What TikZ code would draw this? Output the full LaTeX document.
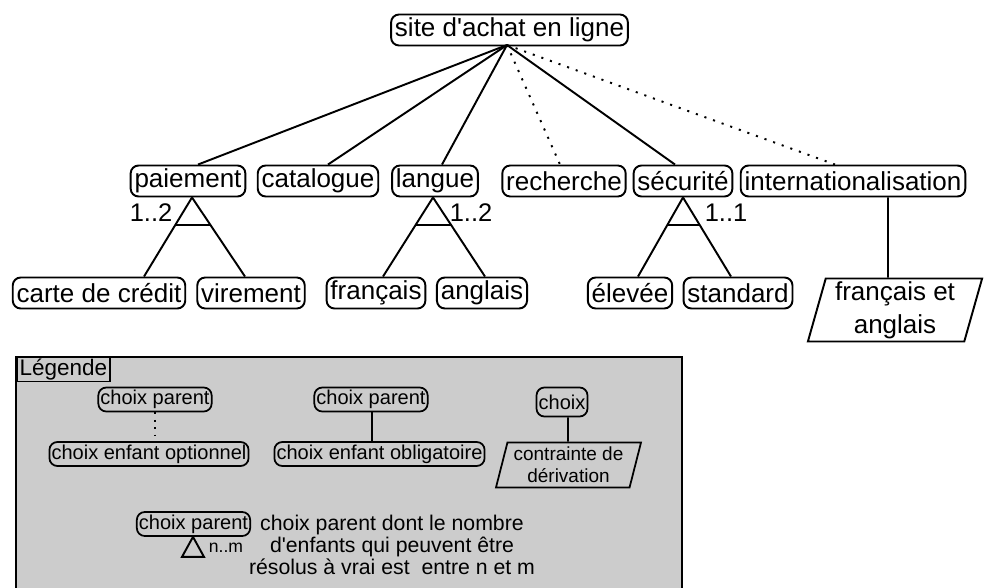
\documentclass[tikz,border=0pt]{standalone}
\usepackage{fontspec}
\setmainfont{Liberation Sans}[Ligatures=TeXOff]
\usetikzlibrary{positioning, shapes.geometric, calc}
\definecolor{legendgrey}{RGB}{204,204,204}

\begin{document}
\begin{tikzpicture}[
    x=0.02cm, y=-0.02cm,
    line width=1.1pt,
    choice/.style={rectangle, draw, rounded corners=4.5pt, font=\fontsize{14.8}{16}\selectfont, inner xsep=2.2pt, inner ysep=0pt, minimum height=0.62cm},
    constraint/.style={trapezium, draw, trapezium left angle=75, trapezium right angle=105, trapezium stretches=true, align=center, font=\fontsize{14.8}{19}\selectfont, minimum width=3.5cm, minimum height=1.26cm, inner sep=0pt},
    card/.style={font=\fontsize{14.5}{15}\selectfont, inner sep=0pt},
    optional/.style={dash pattern=on 1.2pt off 4pt},
    smallchoice/.style={rectangle, draw, rounded corners=4.5pt, line width=1pt, font=\fontsize{11.4}{12}\selectfont, inner xsep=1.2pt, inner ysep=0pt, minimum height=0.48cm},
    smallconstraint/.style={trapezium, draw, line width=1pt, trapezium left angle=74, trapezium right angle=106, trapezium stretches=true, align=center, font=\fontsize{10.8}{12.5}\selectfont, minimum width=2.92cm, minimum height=0.9cm, inner sep=0pt},
    legendtitle/.style={rectangle, draw, line width=1pt, font=\fontsize{12.8}{13}\selectfont, inner xsep=1.5pt, inner ysep=0pt, minimum height=0.48cm},
    desc/.style={align=center, font=\fontsize{12.1}{12.5}\selectfont, inner sep=0pt}
]
\useasboundingbox (0,0) rectangle (984,588);

\node[choice] (site) at (509.5,30) {site d'achat en ligne};

\node[choice] (paiement) at (188,181) {paiement};
\node[choice] (catalogue) at (318,181) {catalogue};
\node[choice] (langue) at (435,181) {langue};
\node[choice] (recherche) at (564,181) {recherche};
\node[choice] (securite) at (683,181) {sécurité};
\node[choice] (inter) at (853,181) {internationalisation};

\node[choice] (carte) at (99,293) {carte de crédit};
\node[choice] (virement) at (251,293) {virement};
\node[choice] (francais) at (376,293) {français};
\node[choice] (anglais) at (482,293) {anglais};
\node[choice] (elevee) at (630,293) {élevée};
\node[choice] (standard) at (738,293) {standard};
\node[constraint] (frang) at (895,310) {français et\\anglais};

\node[card] (paicard) at (151,213) {1..2};
\node[card] (langcard) at (471,213) {1..2};
\node[card] (seccard) at (726,213) {1..1};

\coordinate (top) at (507,45);
\draw (top) -- ($(paiement.north)+(10,0)$);
\draw (top) -- ($(catalogue.north)+(10,0)$);
\draw (top) -- ($(langue.north)+(7,0)$);
\draw[optional] (top) -- ($(recherche.north)+(-4,0)$);
\draw (top) -- ($(securite.north)+(-8,0)$);
\draw[optional] (top) -- ($(inter.north)+(-18,0)$);

\draw ($(paiement.south)+(4,0)$) -- coordinate[pos=0.35] (pl) ($(carte.north)+(45,0)$);
\draw ($(paiement.south)+(4,0)$) -- coordinate[pos=0.35] (pr) ($(virement.north)+(-6,0)$);
\draw (pl) -- (pr);

\draw ($(langue.south)+(-2,0)$) -- coordinate[pos=0.35] (ll) ($(francais.north)+(7,0)$);
\draw ($(langue.south)+(-2,0)$) -- coordinate[pos=0.35] (lr) ($(anglais.north)+(3,0)$);
\draw (ll) -- (lr);

\draw (securite.south) -- coordinate[pos=0.35] (sl) ($(elevee.north)+(8,0)$);
\draw (securite.south) -- coordinate[pos=0.35] (sr) ($(standard.north)+(-7,0)$);
\draw (sl) -- (sr);

\draw ($(inter.south)+(35,0)$) -- ($(frang.north)+(-7,0)$);

\fill[legendgrey] (16,357) rectangle (682,588);
\draw[line width=1pt] (16,588) -- (16,357) -- (682,357) -- (682,588);

\node[legendtitle] (legende) at (63.5,369.5) {Légende};

\node[smallchoice] (parentopt) at (155,399.5) {choix parent};
\node[smallchoice] (enfantopt) at (149,454) {choix enfant optionnel};
\draw[line width=1pt, dash pattern=on 1pt off 3.2pt] (parentopt.south) -- (parentopt.south |- enfantopt.north);

\node[smallchoice] (parentobl) at (371,399.5) {choix parent};
\node[smallchoice] (enfantobl) at (379.5,454) {choix enfant obligatoire};
\draw ($(parentobl.south)+(1,0)$) -- ($(enfantobl.north)+(-7.5,0)$);

\node[smallchoice, minimum height=0.58cm] (choix) at (562,402) {choix};
\node[smallconstraint] (contrainte) at (568.5,465) {contrainte de\\dérivation};
\draw[line width=0.9pt] ($(choix.south)+(6,0)$) -- ($(contrainte.north)+(-0.5,0)$);

\node[smallchoice] (parentcard) at (193.5,524) {choix parent};
\draw[line width=1.1pt] ($(parentcard.south)+(-0.5,0)$) -- ++(11,20) -- ++(-22,0) -- cycle;
\node[card, font=\fontsize{10}{11}\selectfont] (nmcard) at (226,548) {n..m};

\node[desc] (desctext) at (392,545) {choix parent dont le nombre\\d'enfants qui peuvent être\\résolus à vrai est\ \ entre n et m};

\end{tikzpicture}
\end{document}
